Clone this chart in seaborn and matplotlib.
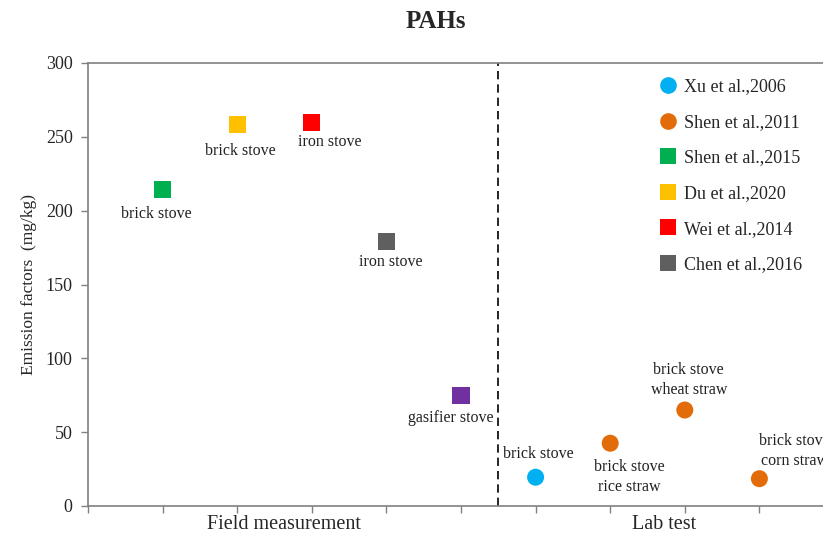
import matplotlib
matplotlib.use('Agg')
import matplotlib.pyplot as plt
from matplotlib.lines import Line2D
import seaborn as sns
import pandas as pd

# Data
studies = ['Shen et al.,2015', 'Du et al.,2020', 'Wei et al.,2014', 'Chen et al.,2016', 'unlisted',
           'Xu et al.,2006', 'Shen et al.,2011', 'Shen et al.,2011', 'Shen et al.,2011']
positions = [1, 2, 3, 4, 5, 6, 7, 8, 9]
emission = [214, 258.5, 260, 179, 74.5, 19.5, 42.5, 65, 18.5]
point_labels = ['brick stove', 'brick stove', 'iron stove', 'iron stove', 'gasifier stove',
                'brick stove', 'brick stove\nrice straw', 'brick stove\nwheat straw', 'brick stove\ncorn straw']
groups = ['Field measurement', 'Lab test']
legend_order = ['Xu et al.,2006', 'Shen et al.,2011', 'Shen et al.,2015',
                'Du et al.,2020', 'Wei et al.,2014', 'Chen et al.,2016']

colors = {'Xu et al.,2006': '#00B0F0', 'Shen et al.,2011': '#E36C0A', 'Shen et al.,2015': '#00B050',
          'Du et al.,2020': '#FFC000', 'Wei et al.,2014': '#FF0000', 'Chen et al.,2016': '#5F5F5F',
          'unlisted': '#7030A0'}
markers = {'Xu et al.,2006': 'o', 'Shen et al.,2011': 'o', 'Shen et al.,2015': 's',
           'Du et al.,2020': 's', 'Wei et al.,2014': 's', 'Chen et al.,2016': 's', 'unlisted': 's'}

# label offsets in pixels (dx, dy)
label_offsets = [(-6, -24), (3, -27), (18, -20), (4, -20), (-10, -22),
                 (3, 23), (19, -34), (4, 30), (35, 28)]

df = pd.DataFrame({'study': studies, 'pos': positions, 'ef': emission})

sns.set_style('ticks')
plt.rcParams['font.family'] = ['Liberation Serif', 'DejaVu Serif']

fig = plt.figure(figsize=(8.23, 5.35), dpi=100)
ax = fig.add_axes([88 / 823, 29 / 535, 1 - 88 / 823, 443 / 535])

sns.scatterplot(data=df, x='pos', y='ef', hue='study', style='study', palette=colors,
                markers=markers, s=150, linewidth=0, legend=False, ax=ax, zorder=3)

ax.axvline(5.5, color='black', linestyle=(0, (5, 3)), linewidth=1.2)

for x, y, lab, (dx, dy) in zip(positions, emission, point_labels, label_offsets):
    ax.annotate(lab, (x, y), xytext=(dx, dy), textcoords='offset pixels',
                ha='center', va='center', fontsize=11.5, linespacing=1.35,
                color='#222222', annotation_clip=False)

ax.set_xlim(0, 735 / 74.6)
ax.set_ylim(0, 300)
ax.set_yticks(range(0, 301, 50))
ax.set_xticks(range(0, 10))
ax.set_xticklabels([])
ax.tick_params(axis='both', direction='out', length=5, width=1, color='#808080', labelsize=13)
ax.tick_params(axis='y', pad=6)
for side in ['left', 'bottom', 'top']:
    ax.spines[side].set_color('#808080')
    ax.spines[side].set_linewidth(1.2)
ax.spines['right'].set_visible(False)

ax.set_xlabel('')
ax.set_ylabel('Emission factors  (mg/kg)', fontsize=12.5, labelpad=6)

for gx, g in zip([2.62, 7.72], groups):
    ax.text(gx, -12.5, g, ha='center', va='center', fontsize=14.5, transform=ax.transData,
            clip_on=False)

fig.text(436 / 823, 1 - 22 / 535, 'PAHs', ha='center', va='center',
         fontsize=18, fontweight='bold')

handles = [Line2D([0], [0], marker=markers[k], color='none', markerfacecolor=colors[k],
                  markeredgewidth=0, markersize=12 if markers[k] == 'o' else 11)
           for k in legend_order]
ax.legend(handles, legend_order, loc='upper left', bbox_to_anchor=(641 / 823, 1 - 62 / 535),
          bbox_transform=fig.transFigure, frameon=False, fontsize=13,
          labelspacing=1.03, handletextpad=0.3, handlelength=1.2)

fig.savefig('out.png', dpi=100)
